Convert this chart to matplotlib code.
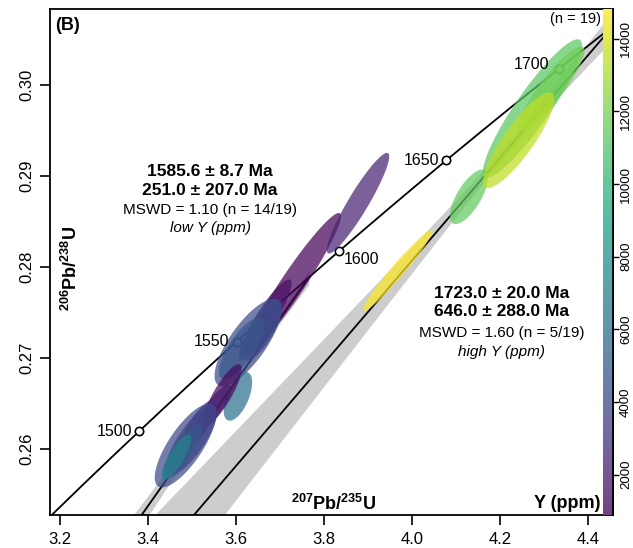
import numpy as np
import matplotlib
matplotlib.use("Agg")
import matplotlib.pyplot as plt
from matplotlib.patches import Polygon
from matplotlib import colors

plt.rcParams['font.family'] = ['Liberation Sans', 'DejaVu Sans']
plt.rcParams['mathtext.fontset'] = 'custom'
plt.rcParams['mathtext.rm'] = 'Liberation Sans'
plt.rcParams['mathtext.bf'] = 'Liberation Sans:bold'
plt.rcParams['mathtext.it'] = 'Liberation Sans:italic'

# ---------------- data ----------------
# low-Y group (207Pb/235U, 2s, 206Pb/238U, 2s, rho, Y ppm)
low_x   = [3.729, 3.878, 3.667, 3.660, 3.628, 3.614, 3.605, 3.570, 3.547, 3.519, 3.4995, 3.486, 3.479, 3.465]
low_sx  = [0.1103, 0.0709, 0.060, 0.0462, 0.0760, 0.052, 0.0324, 0.0435, 0.0425, 0.0381, 0.0590, 0.0700, 0.0441, 0.034]
low_y   = [0.2781, 0.2870, 0.2742, 0.2731, 0.2717, 0.2711, 0.2658, 0.2660, 0.2643, 0.2629, 0.2610, 0.2604, 0.2598, 0.2591]
low_sy  = [0.00783, 0.00552, 0.00443, 0.00336, 0.00480, 0.00340, 0.00267, 0.00333, 0.00279, 0.00253, 0.0039, 0.00460, 0.00297, 0.0025]
low_rho = [0.956, 0.928, 0.897, 0.744, 0.760, 0.760, 0.567, 0.844, 0.858, 0.775, 0.800, 0.760, 0.796, 0.818]
low_Y   = [1000, 2200, 1500, 3500, 4200, 4600, 6000, 1300, 2000, 2600, 3000, 4000, 4800, 7000]

# high-Y group
high_x   = [3.968, 4.130, 4.2745, 4.318, 4.243]
high_sx  = [0.0792, 0.0432, 0.1125, 0.0748, 0.081]
high_y   = [0.2796, 0.2877, 0.2974, 0.2996, 0.2939]
high_sy  = [0.00447, 0.00299, 0.00759, 0.00462, 0.00525]
high_rho = [0.970, 0.697, 0.9105, 0.894, 0.861]
high_Y   = [14800, 11500, 11300, 11800, 13500]

concordia_ages = [1500, 1550, 1600, 1650, 1700]
low_intercepts = (1585.6, 251.0)
high_intercepts = (1723.0, 646.0)
x_ticks = [3.2, 3.4, 3.6, 3.8, 4.0, 4.2, 4.4]
y_ticks = [0.26, 0.27, 0.28, 0.29, 0.30]
cbar_ticks = [2000, 4000, 6000, 8000, 10000, 12000, 14000]
Y_min, Y_max = 890, 14820

low_text = ["1585.6 ± 8.7 Ma", "251.0 ± 207.0 Ma", "MSWD = 1.10 (n = 14/19)", "low Y (ppm)"]
high_text = ["1723.0 ± 20.0 Ma", "646.0 ± 288.0 Ma", "MSWD = 1.60 (n = 5/19)", "high Y (ppm)"]

# ---------------- helpers ----------------
L238 = 1.55125e-10
L235 = 9.8485e-10

def conc(t_ma):
    t = np.asarray(t_ma) * 1e6
    return np.exp(L235 * t) - 1, np.exp(L238 * t) - 1

def ellipse_pts(x, sx, y, sy, rho, n=120):
    cov = np.array([[sx**2, rho*sx*sy], [rho*sx*sy, sy**2]])
    L = np.linalg.cholesky(cov)
    t = np.linspace(0, 2*np.pi, n)
    p = L @ np.vstack([np.cos(t), np.sin(t)])
    return np.column_stack([x + p[0], y + p[1]])

W, H = 633, 548
fig = plt.figure(figsize=(W/100, H/100), dpi=100)
L_px, R_px, T_px, B_px = 50, 613, 9, 515
ax = fig.add_axes([L_px/W, 1-B_px/H, (R_px-L_px)/W, (B_px-T_px)/H])
ax.set_xlim(3.178, 4.4575)
ax.set_ylim(0.25278, 0.30831)

cmap = plt.get_cmap('viridis')
norm = colors.Normalize(Y_min, Y_max)

# discordia lines with error envelopes
def draw_discordia(icpt, xc, a, b):
    xu, yu = conc(icpt[0])
    xl, yl = conc(icpt[1])
    slope = (yu - yl) / (xu - xl)
    xs = np.linspace(3.25, xu, 200)
    ys = yu + slope * (xs - xu)
    hw = np.sqrt(a**2 + (b * (xs - xc))**2)
    ax.fill_between(xs, ys - hw, ys + hw, color='#cdcdcd', lw=0, zorder=1)
    ax.plot(xs, ys, color='black', lw=1.3, zorder=2)

draw_discordia(low_intercepts, 3.62, 0.0003, 0.0050)
draw_discordia(high_intercepts, 4.22, 0.0006, 0.0061)

# concordia
tt = np.linspace(1440, 1760, 400)
cx, cy = conc(tt)
ax.plot(cx, cy, color='black', lw=1.3, zorder=2)
mx, my = conc(concordia_ages)
ax.plot(mx, my, 'o', ms=6, mfc='white', mec='black', mew=1.2, zorder=2.5)
offsets = {1500: (-7, 0, 'right', 'center'), 1550: (-7, 0, 'right', 'center'),
           1600: (5, -8, 'left', 'center'), 1650: (-7, 0, 'right', 'center'),
           1700: (-10, 4, 'right', 'center')}
for age, xx, yy in zip(concordia_ages, mx, my):
    dx, dy, ha, va = offsets[age]
    ax.annotate(str(age), (xx, yy), xytext=(dx*0.72, dy*0.72), textcoords='offset points',
                ha=ha, va=va, fontsize=11.5, zorder=4)

# ellipses
def draw_group(xs, sxs, ys, sys_, rhos, Ys):
    for x, sx, y, sy, r, yv in zip(xs, sxs, ys, sys_, rhos, Ys):
        pts = ellipse_pts(x, sx, y, sy, r)
        ax.add_patch(Polygon(pts, closed=True, facecolor=cmap(norm(yv)), alpha=0.72,
                             edgecolor='none', zorder=3))

draw_group(low_x, low_sx, low_y, low_sy, low_rho, low_Y)
draw_group(high_x, high_sx, high_y, high_sy, high_rho, high_Y)

# axes styling
ax.set_xticks(x_ticks)
ax.set_xticklabels([f"{v:.1f}" for v in x_ticks])
ax.set_yticks(y_ticks)
ax.set_yticklabels([f"{v:.2f}" for v in y_ticks])
ax.tick_params(direction='out', length=7, width=1.2, labelsize=12)
ax.tick_params(axis='x', pad=5)
ax.tick_params(axis='y', labelrotation=90, pad=4)
for lab in ax.get_yticklabels():
    lab.set_va('center')
for s in ax.spines.values():
    s.set_linewidth(1.3)

# colorbar inside plot on right edge
cax = fig.add_axes([603/W, 1-B_px/H, (R_px-603)/W, (B_px-T_px)/H])
grad = np.linspace(Y_min, Y_max, 256).reshape(-1, 1)
cax.imshow(grad, aspect='auto', cmap=cmap, norm=norm, alpha=0.75, origin='lower',
           extent=[0, 1, Y_min, Y_max])
cax.set_xlim(0, 1)
cax.set_ylim(Y_min, Y_max)
cax.set_xticks([])
cax.yaxis.tick_right()
cax.set_yticks(cbar_ticks)
cax.set_yticklabels([str(v) for v in cbar_ticks])
cax.tick_params(axis='y', direction='out', length=4, width=1.0, labelsize=9.5, pad=1,
                labelrotation=90)
for lab in cax.get_yticklabels():
    lab.set_va('center')
for k, s in cax.spines.items():
    s.set_visible(k == 'right')
    s.set_linewidth(1.3)

def ftext(px, py, s, **kw):
    fig.text(px/W, 1-py/H, s, **kw)

ftext(67, 25, "(B)", fontsize=13, fontweight='bold', ha='center', va='center')
ftext(601, 19, "(n = 19)", fontsize=10.5, ha='right', va='center')
ftext(334, 504, r"$\mathbf{^{207}Pb/^{235}U}$", fontsize=13, ha='center', va='center')
ftext(600, 504, "Y (ppm)", fontsize=13, fontweight='bold', ha='right', va='center')
ftext(71, 268, r"$\mathbf{^{206}Pb/^{238}U}$", fontsize=13, ha='center', va='center', rotation=90)

for i, (s, py) in enumerate(zip(low_text, [172, 190, 210, 228])):
    kw = dict(ha='center', va='center')
    if i < 2:
        ftext(210, py, s, fontsize=12.5, fontweight='bold', **kw)
    elif i == 2:
        ftext(210, py, s, fontsize=11, **kw)
    else:
        ftext(210, py, s, fontsize=11, style='italic', **kw)
for i, (s, py) in enumerate(zip(high_text, [293, 312, 333, 352])):
    kw = dict(ha='center', va='center')
    if i < 2:
        ftext(502, py, s, fontsize=12.5, fontweight='bold', **kw)
    elif i == 2:
        ftext(502, py, s, fontsize=11, **kw)
    else:
        ftext(502, py, s, fontsize=11, style='italic', **kw)

fig.savefig("out.png", dpi=100)
